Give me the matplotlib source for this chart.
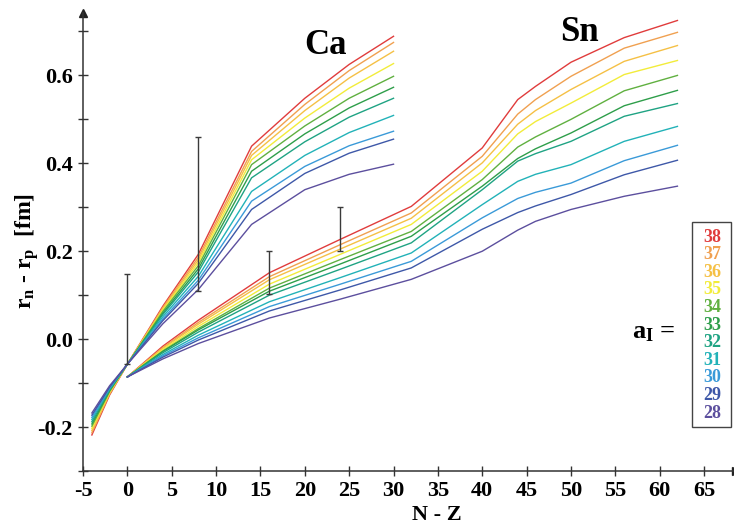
import matplotlib
matplotlib.use("Agg")
import matplotlib.pyplot as plt
from matplotlib.patches import Rectangle
from matplotlib.ticker import MultipleLocator

plt.rcParams['mathtext.fontset'] = 'custom'
plt.rcParams['mathtext.bf'] = 'Liberation Serif:bold'
plt.rcParams['mathtext.rm'] = 'Liberation Serif'

# isovector parameter a_I for each curve, top to bottom
a_values = [38, 37, 36, 35, 34, 33, 32, 31, 30, 29, 28]
line_colors = ['#e03c3c', '#f0a050', '#f5c045', '#f2ec3a', '#60b040', '#2e9e4a',
               '#1fa383', '#22b2b8', '#3a9ad8', '#3e58a8', '#5c4f9e']

# Ca chain: neutron skin r_n - r_p [fm] vs N - Z
ca_nz = [-4, -2, 0, 4, 8, 14, 20, 25, 30]
ca_skin = [
    [-0.218, -0.127, -0.057, 0.075, 0.193, 0.439, 0.548, 0.625, 0.689],
    [-0.213, -0.125, -0.057, 0.072, 0.186, 0.427, 0.534, 0.611, 0.675],
    [-0.208, -0.123, -0.057, 0.069, 0.180, 0.418, 0.520, 0.594, 0.655],
    [-0.203, -0.121, -0.057, 0.066, 0.174, 0.408, 0.503, 0.571, 0.627],
    [-0.198, -0.119, -0.057, 0.063, 0.167, 0.397, 0.485, 0.548, 0.598],
    [-0.193, -0.117, -0.057, 0.059, 0.160, 0.382, 0.467, 0.526, 0.573],
    [-0.188, -0.115, -0.057, 0.056, 0.153, 0.367, 0.449, 0.505, 0.548],
    [-0.183, -0.113, -0.057, 0.051, 0.143, 0.336, 0.418, 0.470, 0.509],
    [-0.178, -0.111, -0.057, 0.046, 0.134, 0.314, 0.393, 0.440, 0.473],
    [-0.173, -0.109, -0.057, 0.042, 0.127, 0.295, 0.377, 0.423, 0.455],
    [-0.168, -0.106, -0.057, 0.035, 0.113, 0.261, 0.340, 0.375, 0.398],
]

# Sn chain
sn_nz = [0, 4, 8, 16, 24, 32, 40, 44, 46, 50, 56, 62]
sn_skin = [
    [-0.086, -0.016, 0.043, 0.151, 0.227, 0.302, 0.435, 0.545, 0.575, 0.630, 0.686, 0.725],
    [-0.086, -0.019, 0.038, 0.142, 0.215, 0.287, 0.416, 0.512, 0.545, 0.598, 0.662, 0.698],
    [-0.086, -0.021, 0.034, 0.135, 0.205, 0.275, 0.401, 0.489, 0.520, 0.568, 0.632, 0.668],
    [-0.086, -0.024, 0.029, 0.125, 0.193, 0.261, 0.382, 0.467, 0.495, 0.537, 0.602, 0.634],
    [-0.086, -0.027, 0.024, 0.116, 0.181, 0.245, 0.363, 0.437, 0.460, 0.500, 0.565, 0.600],
    [-0.086, -0.028, 0.021, 0.109, 0.171, 0.234, 0.348, 0.411, 0.433, 0.469, 0.531, 0.566],
    [-0.086, -0.031, 0.016, 0.100, 0.159, 0.219, 0.340, 0.405, 0.422, 0.450, 0.507, 0.536],
    [-0.086, -0.035, 0.009, 0.085, 0.140, 0.196, 0.306, 0.359, 0.375, 0.397, 0.450, 0.484],
    [-0.086, -0.038, 0.003, 0.074, 0.125, 0.177, 0.276, 0.320, 0.334, 0.355, 0.406, 0.441],
    [-0.086, -0.041, -0.002, 0.064, 0.112, 0.162, 0.250, 0.288, 0.303, 0.329, 0.374, 0.407],
    [-0.086, -0.045, -0.010, 0.048, 0.091, 0.136, 0.200, 0.248, 0.268, 0.295, 0.325, 0.348],
]

# experimental ranges (lower, upper) at given N - Z
exp_nz = [0, 8, 16, 24]
exp_low = [-0.057, 0.109, 0.102, 0.200]
exp_high = [0.148, 0.461, 0.200, 0.301]

serif = 'Liberation Serif'

fig = plt.figure(figsize=(7.34, 5.23), dpi=100)
ax = fig.add_axes([83 / 734, 52 / 523, 653 / 734, 458 / 523])

for row, color in zip(ca_skin, line_colors):
    ax.plot(ca_nz, row, color=color, lw=1.0)
for row, color in zip(sn_skin, line_colors):
    ax.plot(sn_nz, row, color=color, lw=1.0)

# error bars drawn as bare ranges with small caps
mid = [(lo + hi) / 2 for lo, hi in zip(exp_low, exp_high)]
half = [(hi - lo) / 2 for lo, hi in zip(exp_low, exp_high)]
ax.errorbar(exp_nz, mid, yerr=half, fmt='none', ecolor='#3a3a3a',
            elinewidth=1.0, capsize=2.5, capthick=1.0, zorder=5)

ax.set_xlim(-5, 68.6)
ax.set_ylim(-0.3, 0.742)

for side in ['top', 'right']:
    ax.spines[side].set_visible(False)
for side in ['left', 'bottom']:
    ax.spines[side].set_linewidth(1.1)
    ax.spines[side].set_color('#333333')

# arrow heads at the axis ends
ax.plot(0, 1, marker='^', color='#222222', markersize=6,
        transform=ax.transAxes, clip_on=False)
ax.plot(1, 0, marker='>', color='#222222', markersize=6,
        transform=ax.transAxes, clip_on=False)

ax.xaxis.set_major_locator(MultipleLocator(5))
ax.yaxis.set_minor_locator(MultipleLocator(0.1))
ax.tick_params(axis='both', which='both', direction='inout', color='#333333',
               width=1.0, length=7)
ax.tick_params(axis='x', pad=4)
ax.tick_params(axis='y', pad=4)
ax.set_yticks([-0.2, 0.0, 0.2, 0.4, 0.6])
ax.set_yticklabels(['-0.2', '0.0', '0.2', '0.4', '0.6'])
ax.set_xticks(range(-5, 70, 5))
ax.set_xticklabels([str(v) for v in range(-5, 70, 5)])
for lab in ax.get_xticklabels() + ax.get_yticklabels():
    lab.set_fontfamily(serif)
    lab.set_fontweight('bold')
    lab.set_fontsize(16)

ax.set_xlabel('N - Z', fontfamily=serif, fontweight='bold', fontsize=16,
              va='center')
ax.xaxis.set_label_coords(0.542, -0.095)
ax.set_ylabel(r'$\mathbf{r_n}$ - $\mathbf{r_p}$  [fm]', fontfamily=serif,
              fontweight='bold', fontsize=17, va='center')
ax.yaxis.set_label_coords(-0.085, 0.48)

ax.text(22.3, 0.668, 'Ca', fontfamily=serif, fontweight='bold', fontsize=25,
        ha='center', va='center')
ax.text(51.0, 0.698, 'Sn', fontfamily=serif, fontweight='bold', fontsize=25,
        ha='center', va='center')

# a_I key on the right
fig.text(654 / 734, 1 - 332 / 523, r'$\mathbf{a_I}$ =', fontfamily=serif,
         fontweight='bold', fontsize=19, ha='center', va='center')
fig.patches.append(Rectangle((692 / 734, 1 - 427 / 523), 39 / 734, 205 / 523,
                             transform=fig.transFigure, fill=False,
                             edgecolor='#444444', lw=1.0))
for i, (a, color) in enumerate(zip(a_values, line_colors)):
    fig.text(712 / 734, 1 - (237 + i * 17.6) / 523, str(a), color=color,
             fontfamily=serif, fontweight='bold', fontsize=13,
             ha='center', va='center')

fig.savefig('out.png', dpi=100)
